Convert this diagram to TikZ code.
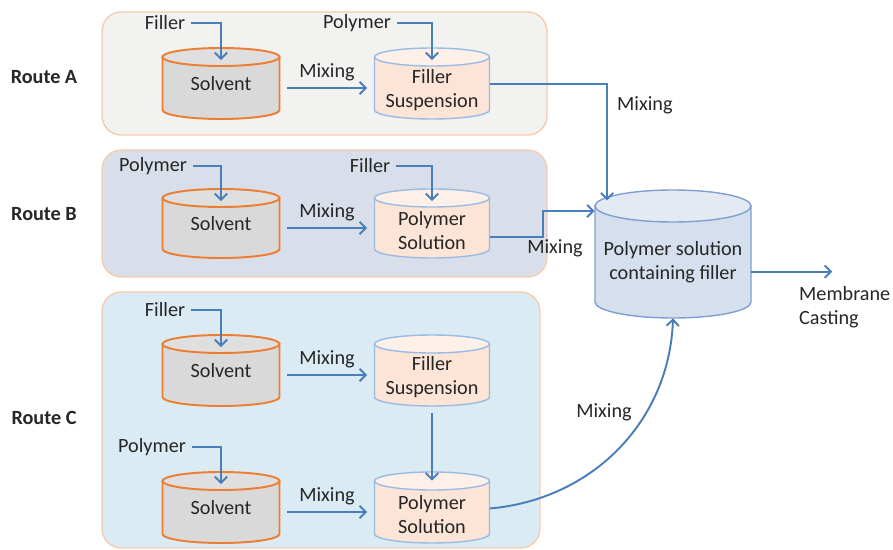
\documentclass[tikz,border=0pt]{standalone}
\usepackage{fontspec}
\setmainfont{Carlito}
\usetikzlibrary{arrows.meta}

\definecolor{solvorange}{HTML}{ED7D31}
\definecolor{solvgray}{HTML}{D9D9D9}
\definecolor{tankblue}{HTML}{9BBBE3}
\definecolor{peach}{HTML}{FCE4D6}
\definecolor{poolfill}{HTML}{D5DFEE}
\definecolor{poolline}{HTML}{7F9FCF}
\definecolor{flowblue}{HTML}{4A7EBB}
\definecolor{panelline}{HTML}{F8CBAD}
\definecolor{panelA}{HTML}{F2F2F0}
\definecolor{panelB}{HTML}{D8DFEA}
\definecolor{panelC}{HTML}{DAEBF3}
\definecolor{ink}{HTML}{262626}

\tikzset{
  txt/.style={font=\fontsize{11.5}{13.7}\selectfont, text=ink, align=center},
  route/.style={font=\fontsize{11.5}{13.7}\selectfont\bfseries, text=ink},
  solvent body/.style={draw=solvorange, line width=1.1pt, fill=solvgray},
  solvent end/.style={draw=solvorange, line width=1.1pt, fill=solvgray!85!white},
  solvent text/.style={yshift=2.5pt},
  mixture body/.style={draw=tankblue, line width=0.8pt, fill=peach},
  mixture end/.style={draw=tankblue, line width=0.8pt, fill=peach!55!white},
  mixture text/.style={yshift=-1.4pt},
  pool body/.style={draw=poolline, line width=0.8pt, fill=poolfill},
  pool end/.style={draw=poolline, line width=0.8pt, fill=poolfill!65!white},
  pool text/.style={},
  flow/.style={draw=flowblue, line width=1.1pt, -{Straight Barb[length=3.5pt,width=7pt]}},
  panel/.style={draw=panelline, line width=0.8pt, rounded corners=11pt}
}

% \tank{kind}{name}{centre x}{top y}{width}{height}{end radius}{text}
% the node spans the body below the centre of the top ellipse
\newcommand{\tank}[8]{%
  \path[#1 body] (#3-#5/2,#4+#7) -- (#3-#5/2,#4+#6-#7)
    arc[start angle=180, end angle=0, x radius=#5/2, y radius=#7]
    -- (#3+#5/2,#4+#7) -- cycle;
  \path[#1 end] (#3,#4+#7) ellipse[x radius=#5/2, y radius=#7];
  \node[inner sep=0pt, minimum width={0.02cm*#5}, minimum height={0.02cm*(#6-#7)},
    label={[txt, #1 text]center:#8}] (#2) at (#3,#4+#6/2+#7/2) {};
}

\begin{document}
\begin{tikzpicture}[x=0.02cm, y=-0.02cm]
\useasboundingbox (0,0) rectangle (893,550);

% route panels
\draw[panel, fill=panelA] (102,12) rectangle (547,135);
\draw[panel, fill=panelB] (102,150) rectangle (547,277);
\draw[panel, fill=panelC] (102,292) rectangle (540,548);

\node[route] (rA) at (44,77) {Route A};
\node[route] (rB) at (44,214) {Route B};
\node[route] (rC) at (44,418) {Route C};

% tanks
\tank{solvent}{sA}{221}{48}{117}{71}{9}{Solvent}
\tank{mixture}{mA}{432}{48}{115}{71}{9}{Filler\\Suspension}
\tank{solvent}{sB}{221}{189}{117}{69}{9}{Solvent}
\tank{mixture}{mB}{432}{189}{115}{69}{9}{Polymer\\Solution}
\tank{solvent}{sC}{221}{335}{117}{71}{9}{Solvent}
\tank{mixture}{mC}{432}{335}{115}{71}{9}{Filler\\Suspension}
\tank{solvent}{sD}{221}{472}{117}{71}{9}{Solvent}
\tank{mixture}{mD}{432}{472}{115}{71}{9}{Polymer\\Solution}
\tank{pool}{pool}{673}{190}{156}{128}{16}{Polymer solution\\containing filler}

% inputs
\node[txt] (fA) at (165,23) {Filler};
\node[txt] (pA) at (357,23) {Polymer};
\node[txt] (pB) at (153,166) {Polymer};
\node[txt] (fB) at (370,166) {Filler};
\node[txt] (fC) at (165,310) {Filler};
\node[txt] (pD) at (152,447) {Polymer};

\draw[flow] (fA.east) -| ([yshift=-2pt]sA.north);
\draw[flow] (pA.east) -| ([yshift=-2pt]mA.north);
\draw[flow] (pB.east) -| ([yshift=-2pt]sB.north);
\draw[flow] (fB.east) -| ([yshift=-2pt]mB.north);
\draw[flow] (fC.east) -| ([yshift=-2pt]sC.north);
\draw[flow] (pD.east) -| ([yshift=-2pt]sD.north);

% mixing steps
\draw[flow] ([xshift=4pt]sA.east) -- node[txt, above] {Mixing} ([xshift=-4pt]mA.west);
\draw[flow] ([xshift=4pt]sB.east) -- node[txt, above] {Mixing} ([xshift=-4pt]mB.west);
\draw[flow] ([xshift=4pt]sC.east) -- node[txt, above] {Mixing} ([xshift=-4pt]mC.west);
\draw[flow] ([xshift=4pt]sD.east) -- node[txt, above] {Mixing} ([xshift=-4pt]mD.west);
\draw[flow] ([yshift=-4pt]mC.south) -- (mD.north);

% into the final solution
\draw[flow] ([yshift=2.3pt]mA.east) -| ([shift={(-37.5pt,3pt)}]pool.north);
\node[txt, anchor=west] (xA) at (611,105) {Mixing};
\draw[flow] ([yshift=-5pt]mB.east) -- ++(30pt,0) |- ([yshift=29pt]pool.west);
\node[txt] (xB) at (555,248) {Mixing};
\draw[flow] ([yshift=2pt]mD.east) to[out=5, in=-92] (pool.south);
\node[txt] (xC) at (604,412) {Mixing};

% casting
\draw[flow] ([yshift=-5.5pt]pool.east) -- ++(46pt,0);
\node[txt, anchor=north west, align=left] (cast) at (793,280) {Membrane\\Casting};
\end{tikzpicture}
\end{document}
